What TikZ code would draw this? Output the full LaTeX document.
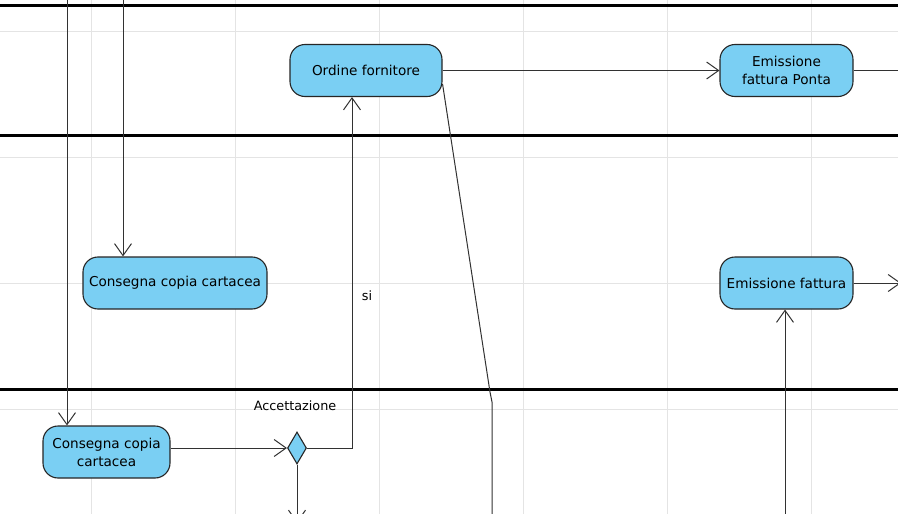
\documentclass[tikz,border=0pt]{standalone}
\usepackage{fontspec}
\setmainfont{DejaVu Sans}
\usetikzlibrary{arrows.meta,shapes.geometric}
\definecolor{actfill}{RGB}{122,207,243}
\definecolor{gridc}{RGB}{228,228,228}
\definecolor{linec}{RGB}{50,50,50}
\tikzset{
  act/.style={draw=black!85, line width=1.1pt, fill=actfill, rounded corners=15pt, inner sep=0pt,
    minimum height=52pt, align=center, font=\fontsize{13.6}{18}\selectfont},
  conn/.style={draw=linec, line width=1pt},
  arr/.style={conn, -{Straight Barb[length=12pt,width=17pt,line width=1pt]}},
  gridl/.style={draw=gridc, line width=1pt},
  lane/.style={draw=black, line width=3pt},
  lbl/.style={font=\fontsize{12.8}{15}\selectfont, inner sep=0pt}
}
\begin{document}
\begin{tikzpicture}[x=1pt,y=-1pt]
\useasboundingbox (0,0) rectangle (898,514);
\fill[white] (0,0) rectangle (898,514);
\clip (0,0) rectangle (898,514);
% grid
\foreach \gx in {91,235,379,523,667,811} \draw[gridl] (\gx,0) -- (\gx,514);
\foreach \gy in {31,157,283,409} \draw[gridl] (0,\gy) -- (898,\gy);
% lanes
\draw[lane] (0,5) -- (898,5);
\draw[lane] (0,135) -- (898,135);
\draw[lane] (0,389) -- (898,389);
% nodes
\node[act, minimum width=152pt] (ord) at (366,70.5) {Ordine fornitore};
\node[act, minimum width=133pt] (efp) at (786.5,70.5) {Emissione\\fattura Ponta};
\node[act, minimum width=184pt] (ccm) at (175,283) {Consegna copia cartacea};
\node[act, minimum width=133pt] (ef) at (786.5,283) {Emissione fattura};
\node[act, minimum width=127pt] (ccb) at (106.5,452) {Consegna copia\\cartacea};
\node[diamond, draw=black!85, line width=1.1pt, fill=actfill, inner sep=0pt,
  minimum width=19pt, minimum height=32pt] (dia) at (297,448) {};
% labels
\node[lbl] (lsi) at (367,296) {si};
\node[lbl] (lacc) at (295,406) {Accettazione};
% free ends
\coordinate (t1) at (67,0);
\coordinate (t2) at (123,0);
\coordinate (k1) at (352,448);
\coordinate (b1) at (297,523);
\coordinate (r1) at (898,70.5);
\coordinate (r2) at (901,283);
\coordinate (b2) at (785,514);
\coordinate (d1) at (490,392);
\coordinate (d2) at (492,402);
\coordinate (b3) at (492,514);
% connectors
\draw[arr] (t1) -- (t1 |- ccb.north);
\draw[arr] (t2) -- (t2 |- ccm.north);
\draw[arr] (ccb.east |- dia) -- (dia.west);
\draw[arr] (dia.east) -- (k1) -- (k1 |- ord.south);
\draw[arr] (dia.south) -- (b1);
\draw[arr] (ord.east) -- (efp.west);
\draw[conn] (efp.east) -- (r1);
\draw[arr] (ef.east) -- (r2);
\draw[arr] (b2) -- (b2 |- ef.south);
\draw[conn] (ord.east |- 0,84) -- (d1) -- (d2) -- (b3);
\end{tikzpicture}
\end{document}
